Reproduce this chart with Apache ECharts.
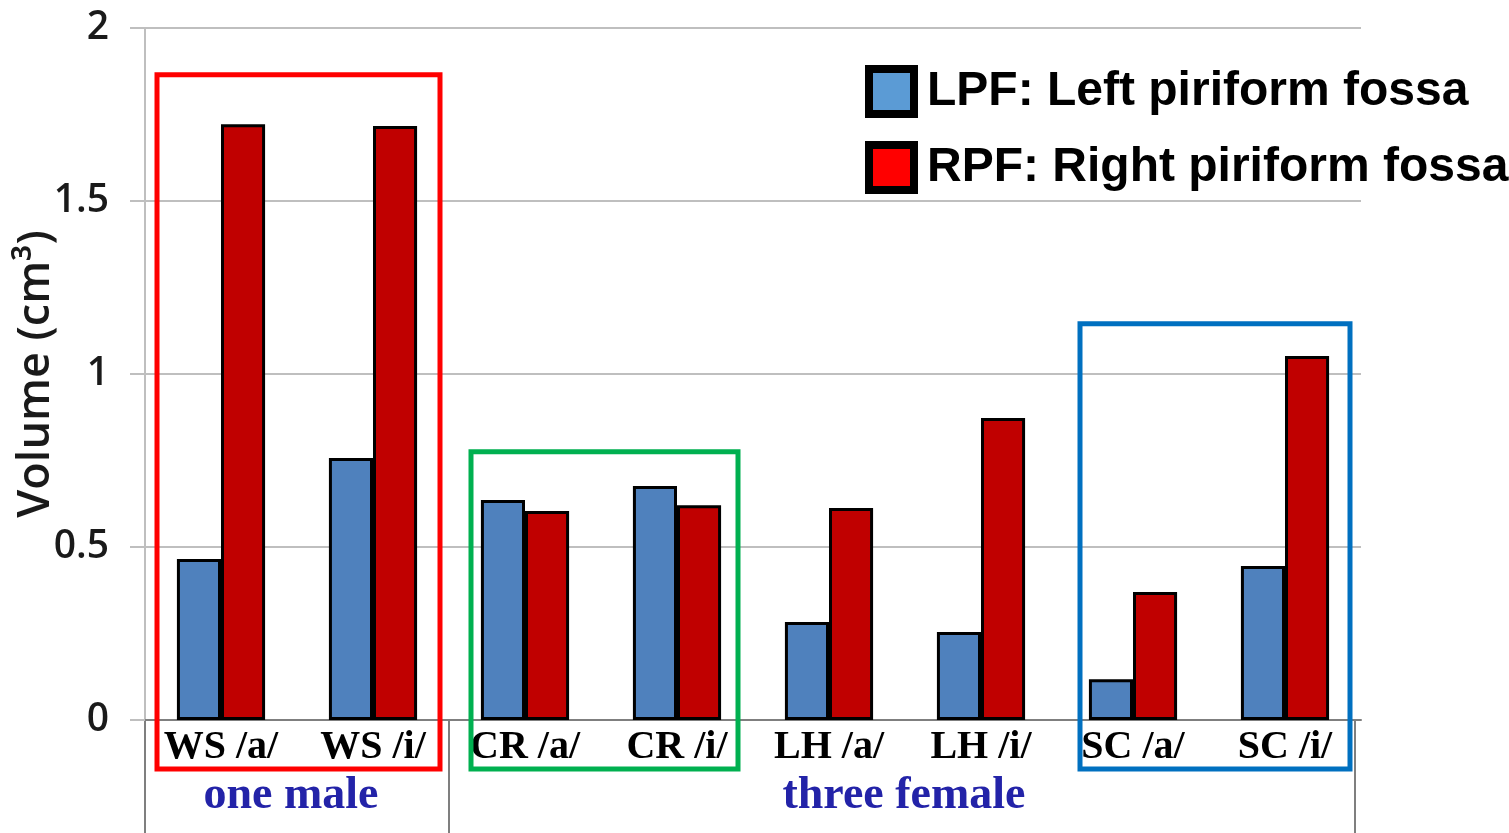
<!DOCTYPE html>
<html>
<head>
<meta charset="utf-8">
<script src="https://cdn.jsdelivr.net/npm/echarts@6/dist/echarts.min.js"></script>
<style>html,body{margin:0;padding:0;background:#fff}#c{width:1509px;height:833px}</style>
</head>
<body>
<div id="c"></div>
<script>
const categories = ['WS /a/', 'WS /i/', 'CR /a/', 'CR /i/', 'LH /a/', 'LH /i/', 'SC /a/', 'SC /i/'];
const lpfValues = [0.465, 0.757, 0.636, 0.676, 0.283, 0.254, 0.118, 0.445];
const rpfValues = [1.722, 1.717, 0.604, 0.621, 0.613, 0.873, 0.370, 1.052];
const seriesNames = ['LPF: Left piriform fossa', 'RPF: Right piriform fossa'];
const groupLabels = ['one male', 'three female'];

const chart = echarts.init(document.getElementById('c'));
const legendBase = {
  orient: 'vertical', left: 865, itemWidth: 45, itemHeight: 45,
  icon: 'rect', padding: 0
};
const option = {
  animation: false,
  grid: { left: 145, right: 148, top: 28, bottom: 113, outerBoundsMode: 'none', containLabel: false },
  legend: [
    Object.assign({}, legendBase, {
      top: 65,
      textStyle: { fontFamily: 'Liberation Sans', fontWeight: 'bold', fontSize: 48, color: '#000', padding: [0,0,10,8] },
      data: [{ name: seriesNames[0], itemStyle: { color: '#5b9bd5', borderColor: '#000', borderWidth: 8 } }]
    }),
    Object.assign({}, legendBase, {
      top: 141,
      textStyle: { fontFamily: 'Liberation Sans', fontWeight: 'bold', fontSize: 48, color: '#000', padding: [24,0,0,8] },
      data: [{ name: seriesNames[1], itemStyle: { color: '#ff0000', borderColor: '#000', borderWidth: 8 } }]
    })
  ],
  xAxis: {
    type: 'category', data: categories,
    axisLine: { lineStyle: { color: '#7f7f7f', width: 2 } },
    axisTick: { show: false },
    axisLabel: { fontFamily: 'Liberation Serif', fontWeight: 'bold', fontSize: 40, color: '#000', margin: 8 }
  },
  yAxis: {
    type: 'value', min: 0, max: 2, interval: 0.5,
    name: 'Volume (cm³)', nameLocation: 'middle', nameGap: 86, nameMoveOverlap: false,
    nameTextStyle: { fontFamily: 'Open Sans', fontWeight: 600, fontSize: 45, color: '#1a1a1a' },
    axisLine: { show: true, lineStyle: { color: '#bfbfbf', width: 2 } },
    axisTick: { show: true, length: 15, lineStyle: { color: '#bfbfbf', width: 2 } },
    axisLabel: { fontFamily: 'Open Sans', fontWeight: 600, fontSize: 39, color: '#1a1a1a', margin: 36 },
    splitLine: { lineStyle: { color: '#bfbfbf', width: 2 } }
  },
  series: [
    { name: seriesNames[0], type: 'bar', data: lpfValues, barGap: '0%', barCategoryGap: '42%',
      itemStyle: { color: '#4f81bd', borderColor: '#000', borderWidth: 3 } },
    { name: seriesNames[1], type: 'bar', data: rpfValues,
      itemStyle: { color: '#c00000', borderColor: '#000', borderWidth: 3 } }
  ]
};
chart.setOption(option);

function px(i) { return chart.convertToPixel({ xAxisIndex: 0 }, i); }
function py(v) { return chart.convertToPixel({ yAxisIndex: 0 }, v); }
const y0 = py(0);
const bottom = 833;
const step = px(1) - px(0);
const leftEdge = px(0) - step / 2;
const divider = px(1) + step / 2;
const rightEdge = px(7) + step / 2 - 6;
const boxBottom = y0 + 49;
function box(i0, i1, dl, dr, top, color) {
  const x1 = px(i0) + dl, x2 = px(i1) + dr, yt = py(top);
  return { type: 'rect', shape: { x: x1, y: yt, width: x2 - x1, height: boxBottom - yt },
    style: { fill: null, stroke: color, lineWidth: 5 }, z: 100 };
}
const graphics = [
  { type: 'line', shape: { x1: leftEdge, y1: y0, x2: leftEdge, y2: bottom }, style: { stroke: '#7f7f7f', lineWidth: 2 } },
  { type: 'line', shape: { x1: divider, y1: y0, x2: divider, y2: bottom }, style: { stroke: '#7f7f7f', lineWidth: 2 } },
  { type: 'line', shape: { x1: rightEdge, y1: y0, x2: rightEdge, y2: bottom }, style: { stroke: '#7f7f7f', lineWidth: 2 } },
  { type: 'text', x: (leftEdge + divider) / 2 - 6, y: y0 + 76,
    style: { text: groupLabels[0], fill: '#2323a8', font: 'bold 46px "Liberation Serif"', align: 'center', verticalAlign: 'middle' } },
  { type: 'text', x: (divider + rightEdge) / 2 + 2, y: y0 + 76,
    style: { text: groupLabels[1], fill: '#2323a8', font: 'bold 46px "Liberation Serif"', align: 'center', verticalAlign: 'middle' } },
  box(0, 1, -64, 67, 1.865, '#ff0000'),
  box(2, 3, -54, 61, 0.775, '#00b050'),
  box(6, 7, -53, 65, 1.145, '#0070c0')
];
chart.setOption({ graphic: graphics });
</script>
</body>
</html>
